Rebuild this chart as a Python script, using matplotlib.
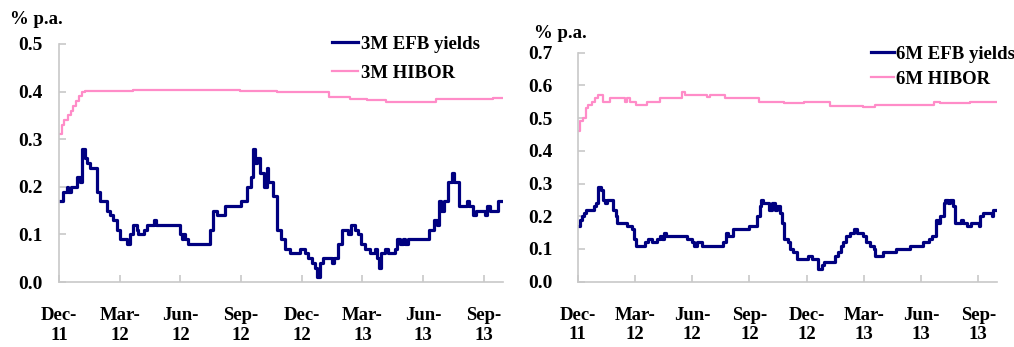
import matplotlib
matplotlib.use("Agg")
import matplotlib.pyplot as plt

plt.rcParams['font.family'] = ['Liberation Serif', 'DejaVu Serif']
plt.rcParams['font.weight'] = 'bold'

# x positions are months since Dec-2011
tick_pos = [0, 3, 6, 9, 12, 15, 18, 21]
tick_labels = ['Dec-\n11', 'Mar-\n12', 'Jun-\n12', 'Sep-\n12',
               'Dec-\n12', 'Mar-\n13', 'Jun-\n13', 'Sep-\n13']
x_end = 21.96

# 3M EFB yields (step points)
efb3_x = [0.0, 0.18, 0.38, 0.46, 0.58, 0.87, 1.04, 1.12, 1.29, 1.40, 1.53, 1.86,
          2.03, 2.36, 2.52, 2.69, 2.85, 3.01, 3.38, 3.51, 3.67, 3.84, 3.92, 4.20,
          4.33, 4.70, 4.79, 5.98, 6.06, 6.15, 6.23, 6.39, 6.56, 7.46, 7.63, 7.79,
          7.87, 8.20, 8.98, 9.31, 9.47, 9.57, 9.69, 9.80, 9.93, 10.15, 10.26, 10.35,
          10.59, 10.76, 11.00, 11.17, 11.42, 11.91, 12.16, 12.32, 12.49, 12.65, 12.78,
          12.90, 13.03, 13.48, 13.61, 13.77, 13.97, 14.30, 14.46, 14.63, 14.79, 14.91,
          15.12, 15.40, 15.62, 15.70, 15.82, 15.90, 16.11, 16.28, 16.61, 16.72, 16.85,
          17.02, 17.10, 17.27, 18.29, 18.55, 18.70, 18.80, 18.91, 19.03, 19.24, 19.41,
          19.52, 19.79, 20.15, 20.26, 20.45, 20.64, 21.05, 21.17, 21.30, 21.71, 21.96]
efb3_y = [0.17, 0.19, 0.20, 0.19, 0.20, 0.22, 0.21, 0.28, 0.26, 0.25, 0.24, 0.19,
          0.17, 0.15, 0.14, 0.13, 0.11, 0.09, 0.08, 0.10, 0.12, 0.11, 0.10, 0.11,
          0.12, 0.13, 0.12, 0.10, 0.09, 0.10, 0.09, 0.08, 0.08, 0.11, 0.15, 0.14,
          0.14, 0.16, 0.17, 0.20, 0.22, 0.28, 0.25, 0.26, 0.23, 0.20, 0.24, 0.21,
          0.18, 0.11, 0.09, 0.07, 0.06, 0.07, 0.06, 0.05, 0.04, 0.03, 0.01,
          0.04, 0.05, 0.04, 0.05, 0.08, 0.11, 0.10, 0.12, 0.11, 0.10, 0.08,
          0.07, 0.06, 0.07, 0.05, 0.03, 0.06, 0.07, 0.06, 0.07, 0.09, 0.08,
          0.09, 0.08, 0.09, 0.11, 0.13, 0.12, 0.17, 0.15, 0.17, 0.21, 0.23,
          0.21, 0.16, 0.17, 0.16, 0.14, 0.15, 0.14, 0.16, 0.15, 0.17, 0.17]

# 3M HIBOR
hibor3_x = [0.0, 0.13, 0.26, 0.46, 0.59, 0.71, 0.84, 1.00, 1.12, 1.29, 3.67, 4.33,
            7.30, 8.95, 10.76, 12.41, 13.36, 14.38, 15.21, 16.19, 18.50, 18.66,
            20.15, 21.47, 21.96]
hibor3_y = [0.31, 0.33, 0.34, 0.35, 0.36, 0.37, 0.38, 0.39, 0.40, 0.402, 0.403, 0.404,
            0.403, 0.401, 0.399, 0.400, 0.388, 0.384, 0.382, 0.379, 0.379, 0.384,
            0.385, 0.387, 0.387]

# 6M EFB yields
efb6_x = [0.0, 0.12, 0.21, 0.33, 0.44, 0.86, 0.96, 1.08, 1.21, 1.35, 1.43, 1.52,
          1.87, 2.01, 2.08, 2.57, 2.83, 2.95, 3.06, 3.53, 3.71, 3.88, 4.14, 4.32,
          4.41, 4.53, 4.63, 5.75, 5.98, 6.10, 6.24, 6.50, 7.60, 7.78, 7.90, 8.13,
          9.00, 9.39, 9.53, 9.60, 9.70, 10.05, 10.17, 10.35, 10.44, 10.58, 10.70,
          10.82, 11.00, 11.14, 11.31, 11.49, 12.05, 12.27, 12.62, 12.80, 12.92,
          13.50, 13.67, 13.79, 13.90, 14.07, 14.25, 14.46, 14.63, 14.98, 15.12,
          15.33, 15.51, 15.59, 16.00, 16.70, 17.43, 18.09, 18.39, 18.57, 18.76,
          18.86, 19.00, 19.18, 19.27, 19.39, 19.49, 19.67, 19.76, 20.09, 20.19,
          20.40, 20.61, 21.01, 21.10, 21.27, 21.71, 21.78, 21.98]
efb6_y = [0.17, 0.19, 0.20, 0.21, 0.22, 0.23, 0.24, 0.29, 0.28, 0.25, 0.24, 0.25,
          0.22, 0.20, 0.18, 0.17, 0.16, 0.13, 0.11, 0.12, 0.13, 0.12, 0.13, 0.14,
          0.13, 0.15, 0.14, 0.13, 0.12, 0.11, 0.12, 0.11, 0.12, 0.15, 0.14, 0.16,
          0.17, 0.20, 0.23, 0.25, 0.24, 0.22, 0.24, 0.22, 0.23, 0.21, 0.18,
          0.13, 0.12, 0.10, 0.09, 0.07, 0.08, 0.07, 0.04, 0.05, 0.06,
          0.08, 0.09, 0.11, 0.12, 0.14, 0.15, 0.16, 0.15, 0.14, 0.12,
          0.11, 0.10, 0.08, 0.09, 0.10, 0.11, 0.12, 0.13, 0.14, 0.19,
          0.18, 0.20, 0.24, 0.25, 0.24, 0.25, 0.23, 0.18, 0.19, 0.18,
          0.17, 0.18, 0.17, 0.20, 0.21, 0.20, 0.22, 0.22]

# 6M HIBOR
hibor6_x = [0.0, 0.12, 0.26, 0.44, 0.56, 0.73, 0.91, 1.08, 1.35, 1.70, 2.48, 2.57,
            2.74, 3.06, 3.62, 4.32, 5.45, 5.63, 6.77, 6.94, 7.73, 9.48, 10.79,
            11.84, 13.23, 14.98, 15.59, 17.43, 18.65, 19.00, 20.58, 21.98]
hibor6_y = [0.46, 0.49, 0.50, 0.53, 0.54, 0.55, 0.56, 0.57, 0.55, 0.56, 0.55, 0.56,
            0.55, 0.54, 0.55, 0.56, 0.58, 0.57, 0.565, 0.57, 0.56, 0.55, 0.545,
            0.548, 0.538, 0.535, 0.54, 0.54, 0.55, 0.545, 0.548, 0.548]

navy = '#000080'
pink = '#FF8CC8'
grey = '#C8C8C8'

fig = plt.figure(figsize=(10.14, 3.47), dpi=100)
ax1 = fig.add_axes([0.0582, 0.1873, 0.438, 0.686])
ax2 = fig.add_axes([0.5697, 0.1882, 0.4132, 0.660])


def style(ax, ymax, ypad):
    ax.set_xlim(0, x_end)
    ax.set_ylim(0, ymax)
    for s in ['top', 'right']:
        ax.spines[s].set_visible(False)
    for s in ['left', 'bottom']:
        ax.spines[s].set_color(grey)
        ax.spines[s].set_linewidth(1.2)
    ax.set_xticks(tick_pos)
    ax.set_xticklabels(tick_labels, fontsize=13.5, fontweight='bold')
    n = int(round(ymax * 10)) + 1
    ax.set_yticks([i / 10 for i in range(n)])
    ax.set_yticklabels(['%.1f' % (i / 10) for i in range(n)],
                       fontsize=14, fontweight='bold')
    ax.tick_params(axis='both', direction='in', color=grey, length=5, width=1.2)
    ax.tick_params(axis='x', pad=18)
    ax.tick_params(axis='y', pad=ypad)


ax1.plot(efb3_x, efb3_y, drawstyle='steps-post', color=navy, lw=2.3, label='3M EFB yields')
ax1.plot(hibor3_x, hibor3_y, drawstyle='steps-post', color=pink, lw=1.6, label='3M HIBOR')
style(ax1, 0.5, 12)

ax2.plot(efb6_x, efb6_y, drawstyle='steps-post', color=navy, lw=2.3, label='6M EFB yields')
ax2.plot(hibor6_x, hibor6_y, drawstyle='steps-post', color=pink, lw=1.6, label='6M HIBOR')
style(ax2, 0.7, 18)

fig.text(0.010, 0.945, '% p.a.', fontsize=13.5, fontweight='bold', va='center')
fig.text(0.527, 0.903, '% p.a.', fontsize=13.5, fontweight='bold', va='center')

leg_kw = dict(frameon=False, loc='upper left', bbox_transform=fig.transFigure,
              borderpad=0, borderaxespad=0, handletextpad=0.15,
              prop={'size': 13.5, 'weight': 'bold'})
ax1.legend(bbox_to_anchor=(0.327, 0.897), handlelength=1.4, labelspacing=0.62, **leg_kw)
ax2.legend(bbox_to_anchor=(0.859, 0.868), handlelength=1.2, labelspacing=0.42, **leg_kw)

fig.savefig('out.png', dpi=100)
